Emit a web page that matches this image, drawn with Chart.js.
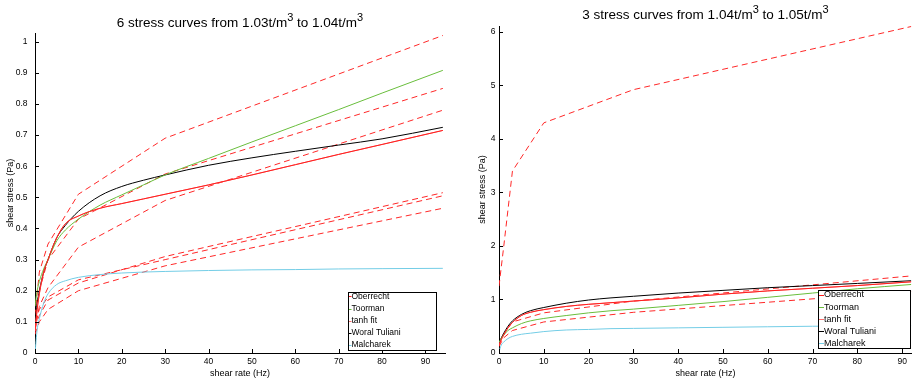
<!DOCTYPE html>
<html>
<head>
<meta charset="utf-8">
<script src="https://cdn.jsdelivr.net/npm/chart.js@4.4.1/dist/chart.umd.min.js"></script>
<style>
  body { margin: 0; background: #fff; }
  canvas { position: absolute; top: 0; }
  #left { left: 0; }
  #right { left: 460px; }
</style>
</head>
<body>
<canvas id="left" width="458" height="380"></canvas>
<canvas id="right" width="452" height="380"></canvas>
<script>
const FONT = "'Liberation Sans', Arial, Helvetica, sans-serif";

const modelNames = ['Oberrecht', 'Toorman', 'tanh fit', 'Woral Tuliani', 'Malcharek'];
const modelColors = ['rgb(255,30,30)', 'rgb(105,190,60)', 'rgb(255,110,110)', 'rgb(0,0,0)', 'rgb(115,205,230)'];

// shear rates (Hz) the fitted curves were read at
const fitRateLeft = [0, 0.5, 1, 2, 3, 5, 7, 10, 15, 20, 25, 30, 40, 50, 60, 70, 80, 94];
const fitRateRight = [0, 0.5, 1, 2, 3, 5, 7, 10, 15, 20, 25, 30, 40, 50, 60, 70, 80, 92];
// shear rates of the measured (dashed) curves
const measRateLeft = [0, 1, 3, 10, 30, 94];
const measRateRight = [0, 1, 3, 10, 30, 92];

// left panel, 1.03 - 1.04 t/m3
const leftOberrecht = [0.07, 0.14, 0.19, 0.26, 0.3, 0.37, 0.415, 0.44, 0.465, 0.48, 0.495, 0.51, 0.54, 0.572, 0.605, 0.638, 0.67, 0.715];
const leftToorman = [0.15, 0.2, 0.23, 0.27, 0.3, 0.36, 0.395, 0.43, 0.475, 0.508, 0.54, 0.572, 0.625, 0.678, 0.73, 0.782, 0.835, 0.908];
const leftTanh = [0.07, 0.14, 0.19, 0.26, 0.3, 0.37, 0.415, 0.44, 0.465, 0.48, 0.495, 0.51, 0.54, 0.572, 0.605, 0.638, 0.67, 0.715];
const leftWoral = [0.1, 0.16, 0.2, 0.26, 0.3, 0.37, 0.41, 0.455, 0.505, 0.535, 0.555, 0.572, 0.603, 0.627, 0.648, 0.668, 0.688, 0.725];
const leftMalcharek = [0, 0.075, 0.11, 0.16, 0.19, 0.22, 0.232, 0.243, 0.252, 0.257, 0.26, 0.262, 0.265, 0.267, 0.268, 0.27, 0.271, 0.272];
const leftMeasured = [
  [0.12, 0.26, 0.35, 0.51, 0.69, 1.02],
  [0.1, 0.2, 0.3, 0.43, 0.575, 0.85],
  [0.07, 0.15, 0.21, 0.34, 0.49, 0.78],
  [0.08, 0.12, 0.17, 0.225, 0.31, 0.515],
  [0.1, 0.14, 0.18, 0.235, 0.3, 0.505],
  [0.06, 0.1, 0.14, 0.2, 0.28, 0.465]
];

// right panel, 1.04 - 1.05 t/m3
const rightOberrecht = [0.15, 0.25, 0.33, 0.47, 0.57, 0.7, 0.76, 0.81, 0.87, 0.91, 0.94, 0.97, 1.03, 1.1, 1.16, 1.21, 1.26, 1.33];
const rightToorman = [0.2, 0.27, 0.33, 0.42, 0.47, 0.55, 0.6, 0.645, 0.7, 0.75, 0.79, 0.82, 0.89, 0.96, 1.04, 1.12, 1.2, 1.28];
const rightTanh = [0.15, 0.25, 0.33, 0.47, 0.57, 0.7, 0.76, 0.81, 0.87, 0.91, 0.94, 0.97, 1.03, 1.1, 1.16, 1.21, 1.26, 1.33];
const rightWoral = [0.18, 0.28, 0.36, 0.5, 0.6, 0.72, 0.79, 0.85, 0.93, 0.99, 1.03, 1.06, 1.12, 1.17, 1.22, 1.26, 1.3, 1.35];
const rightMalcharek = [0.02, 0.15, 0.2, 0.27, 0.31, 0.35, 0.37, 0.4, 0.43, 0.44, 0.455, 0.46, 0.47, 0.48, 0.49, 0.5, 0.505, 0.51];
const rightMeasured = [
  [1.25, 1.95, 3.4, 4.3, 4.92, 6.1],
  [0.15, 0.35, 0.58, 0.75, 0.97, 1.44],
  [0.12, 0.28, 0.42, 0.58, 0.76, 1.15]
];

const xTicks = [0, 10, 20, 30, 40, 50, 60, 70, 80, 90];
const leftYTicks = [0, 0.1, 0.2, 0.3, 0.4, 0.5, 0.6, 0.7, 0.8, 0.9, 1];
const rightYTicks = [0, 1, 2, 3, 4, 5, 6];

const leftTitle = ['6 stress curves from 1.03t/m', '3', ' to 1.04t/m', '3'];
const rightTitle = ['3 stress curves from 1.04t/m', '3', ' to 1.05t/m', '3'];

function pts(xs, ys) {
  return ys.map((v, i) => ({ x: xs[i], y: v }));
}

function buildDatasets(fitX, fits, measX, meas) {
  const ds = modelNames.map((name, i) => ({
    label: name,
    data: pts(fitX, fits[i]),
    borderColor: modelColors[i],
    borderWidth: 1,
    pointRadius: 0,
    cubicInterpolationMode: 'monotone',
    fill: false
  }));
  meas.forEach((m, i) => ds.push({
    label: 'measured ' + (i + 1),
    data: pts(measX, m),
    borderColor: 'rgb(255,40,40)',
    borderWidth: 1,
    borderDash: [6, 4],
    pointRadius: 0,
    fill: false
  }));
  return ds;
}

// title with superscripts, drawn above the plot
const supTitle = {
  id: 'supTitle',
  afterDraw(chart, args, o) {
    const ctx = chart.ctx, a = chart.chartArea;
    const big = o.size + 'px ' + FONT, small = o.supSize + 'px ' + FONT;
    let w = 0;
    o.parts.forEach((t, i) => { ctx.font = i % 2 ? small : big; w += ctx.measureText(t).width; });
    let x = (a.left + a.right) / 2 - w / 2;
    ctx.save();
    ctx.fillStyle = '#000';
    ctx.textBaseline = 'alphabetic';
    o.parts.forEach((t, i) => {
      ctx.font = i % 2 ? small : big;
      ctx.fillText(t, x, i % 2 ? o.y - o.raise : o.y);
      x += ctx.measureText(t).width;
    });
    ctx.restore();
  }
};

// matlab style ticks pointing into the plot
const inTicks = {
  id: 'inTicks',
  afterDatasetsDraw(chart) {
    const { ctx, chartArea: a, scales: { x, y } } = chart;
    ctx.save();
    ctx.strokeStyle = '#000';
    ctx.lineWidth = 1;
    ctx.beginPath();
    x.ticks.forEach(t => {
      const px = Math.round(x.getPixelForValue(t.value)) + 0.5;
      ctx.moveTo(px, a.bottom);
      ctx.lineTo(px, a.bottom - 4);
    });
    y.ticks.forEach(t => {
      const py = Math.round(y.getPixelForValue(t.value)) + 0.5;
      ctx.moveTo(a.left, py);
      ctx.lineTo(a.left + 4, py);
    });
    ctx.stroke();
    ctx.restore();
  }
};

// boxed legend in the lower right corner
const boxLegend = {
  id: 'boxLegend',
  afterDatasetsDraw(chart, args, o) {
    const ctx = chart.ctx;
    ctx.save();
    ctx.fillStyle = '#fff';
    ctx.fillRect(o.x, o.y, o.w, o.h);
    ctx.strokeStyle = '#000';
    ctx.lineWidth = 1;
    ctx.strokeRect(o.x + 0.5, o.y + 0.5, o.w, o.h);
    ctx.font = o.size + 'px ' + FONT;
    ctx.textBaseline = 'middle';
    modelNames.forEach((name, i) => {
      const ds = chart.data.datasets[i];
      const cy = o.y + o.first + i * o.step;
      ctx.strokeStyle = ds.borderColor;
      ctx.beginPath();
      ctx.moveTo(o.x + 1, Math.round(cy) + 0.5);
      ctx.lineTo(o.x + o.line, Math.round(cy) + 0.5);
      ctx.stroke();
      ctx.fillStyle = '#000';
      ctx.fillText(name, o.x + o.line, cy);
    });
    ctx.restore();
  }
};

function makeChart(id, p) {
  const tickFont = { family: FONT, size: 8.5 };
  const axisFont = { family: FONT, size: 9 };
  return new Chart(document.getElementById(id), {
    type: 'line',
    data: { datasets: p.datasets },
    plugins: [supTitle, inTicks, boxLegend],
    options: {
      responsive: false,
      animation: false,
      events: [],
      layout: { padding: { top: p.top, right: p.right, left: 0, bottom: 0 } },
      scales: {
        x: {
          type: 'linear',
          min: 0,
          max: p.xMax,
          afterBuildTicks: s => { s.ticks = xTicks.map(v => ({ value: v })); },
          afterFit: s => { s.height = 27; },
          grid: { drawOnChartArea: false, drawTicks: false },
          border: { color: '#000', width: 1 },
          ticks: { font: tickFont, color: '#000', padding: 4, maxRotation: 0, autoSkip: false, callback: v => String(v) },
          title: { display: true, text: 'shear rate (Hz)', font: axisFont, color: '#000', padding: { top: 0, bottom: 1.5 } }
        },
        y: {
          type: 'linear',
          min: 0,
          max: p.yMax,
          afterBuildTicks: s => { s.ticks = p.yTicks.map(v => ({ value: v })); },
          afterFit: s => { s.width = p.yWidth; },
          grid: { drawOnChartArea: false, drawTicks: false },
          border: { color: '#000', width: 1 },
          ticks: { font: tickFont, color: '#000', padding: p.yPad, autoSkip: false, callback: v => String(v) },
          title: { display: true, text: 'shear stress (Pa)', font: axisFont, color: '#000', padding: { top: p.yTitlePad, bottom: 0 } }
        }
      },
      plugins: {
        legend: { display: false },
        tooltip: { enabled: false },
        supTitle: p.title,
        boxLegend: p.legend
      }
    }
  });
}

makeChart('left', {
  datasets: buildDatasets(fitRateLeft, [leftOberrecht, leftToorman, leftTanh, leftWoral, leftMalcharek], measRateLeft, leftMeasured),
  top: 33, right: 13, xMax: 94.5, yMax: 1.028, yTicks: leftYTicks, yWidth: 35, yPad: 7.5, yTitlePad: 5.6,
  title: { parts: leftTitle, size: 13.5, supSize: 11, y: 26.5, raise: 6 },
  legend: { x: 348, y: 292, w: 88, h: 58, first: 4.3, step: 12.2, line: 3.5, size: 8.5 }
});

makeChart('right', {
  datasets: buildDatasets(fitRateRight, [rightOberrecht, rightToorman, rightTanh, rightWoral, rightMalcharek], measRateRight, rightMeasured),
  top: 26, right: 0, xMax: 92.2, yMax: 6.11, yTicks: rightYTicks, yWidth: 39, yPad: 3.5, yTitlePad: 17,
  title: { parts: rightTitle, size: 13.5, supSize: 11, y: 19, raise: 6 },
  legend: { x: 358, y: 290, w: 92, h: 58, first: 5, step: 12.1, line: 6, size: 9 }
});
</script>
</body>
</html>
